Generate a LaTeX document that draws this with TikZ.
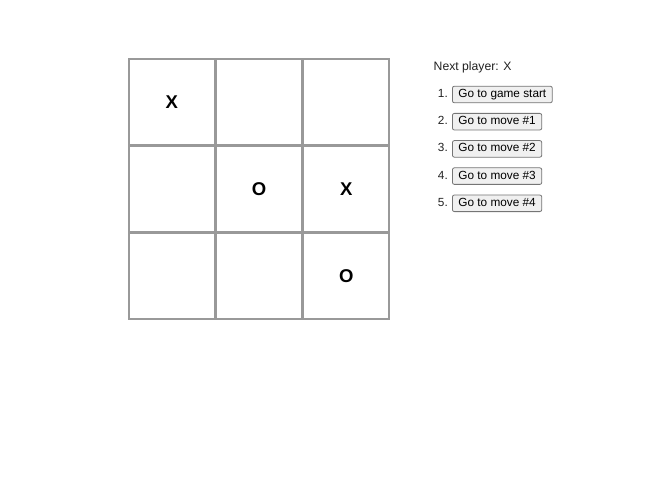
\documentclass[tikz,border=0pt]{standalone}
\usepackage{fontspec}
\setmainfont{Liberation Sans}
\usetikzlibrary{calc}
\definecolor{sqgray}{rgb}{0.6,0.6,0.6}
\definecolor{btngray}{rgb}{0.46,0.46,0.46}
\definecolor{btnfill}{rgb}{0.94,0.94,0.94}
\definecolor{txt}{rgb}{0.13,0.13,0.13}
\tikzstyle{square}=[draw=sqgray,line width=1.6pt,minimum size=85.7pt,inner sep=0pt,font=\fontsize{18.5}{18.5}\selectfont\bfseries]
\tikzstyle{btn}=[draw=btngray,fill=btnfill,rounded corners=2pt,line width=0.8pt,inner xsep=6pt,inner ysep=2.6pt,text height=8.8pt,text depth=2.6pt,anchor=west,font=\fontsize{11.8}{11.8}\selectfont]
\tikzstyle{num}=[anchor=east,inner sep=0pt,text height=8.8pt,text depth=2.6pt,text=txt,font=\fontsize{11.8}{11.8}\selectfont]

\begin{document}
\begin{tikzpicture}[x=1pt,y=-1pt,node distance=87.33pt]
	\useasboundingbox (0,0) rectangle (659,500);
	\node[square] (s0) at (171.7,101.7) {X};
	\node[square] (s1) [right of=s0] {};
	\node[square] (s2) [right of=s1] {};
	\node[square] (s3) [below of=s0] {};
	\node[square] (s4) [right of=s3] {O};
	\node[square] (s5) [right of=s4] {X};
	\node[square] (s6) [below of=s3] {};
	\node[square] (s7) [right of=s6] {};
	\node[square] (s8) [right of=s7] {O};

	\node[anchor=west,inner sep=0pt,text=txt,font=\fontsize{12.2}{12.2}\selectfont] (status) at (433.5,67.5) {Next player: X};
	\node[btn] (m0) at (452,94.5) {Go to game start};
	\node[btn] (m1) at ($ (m0.west)+(0,27.2) $) {Go to move \#1};
	\node[btn] (m2) at ($ (m1.west)+(0,27.2) $) {Go to move \#2};
	\node[btn] (m3) at ($ (m2.west)+(0,27.2) $) {Go to move \#3};
	\node[btn] (m4) at ($ (m3.west)+(0,27.2) $) {Go to move \#4};
	\node[num] (n0) at ($ (m0.west)+(-4,0) $) {1.};
	\node[num] (n1) at ($ (m1.west)+(-4,0) $) {2.};
	\node[num] (n2) at ($ (m2.west)+(-4,0) $) {3.};
	\node[num] (n3) at ($ (m3.west)+(-4,0) $) {4.};
	\node[num] (n4) at ($ (m4.west)+(-4,0) $) {5.};
\end{tikzpicture}
\end{document}
